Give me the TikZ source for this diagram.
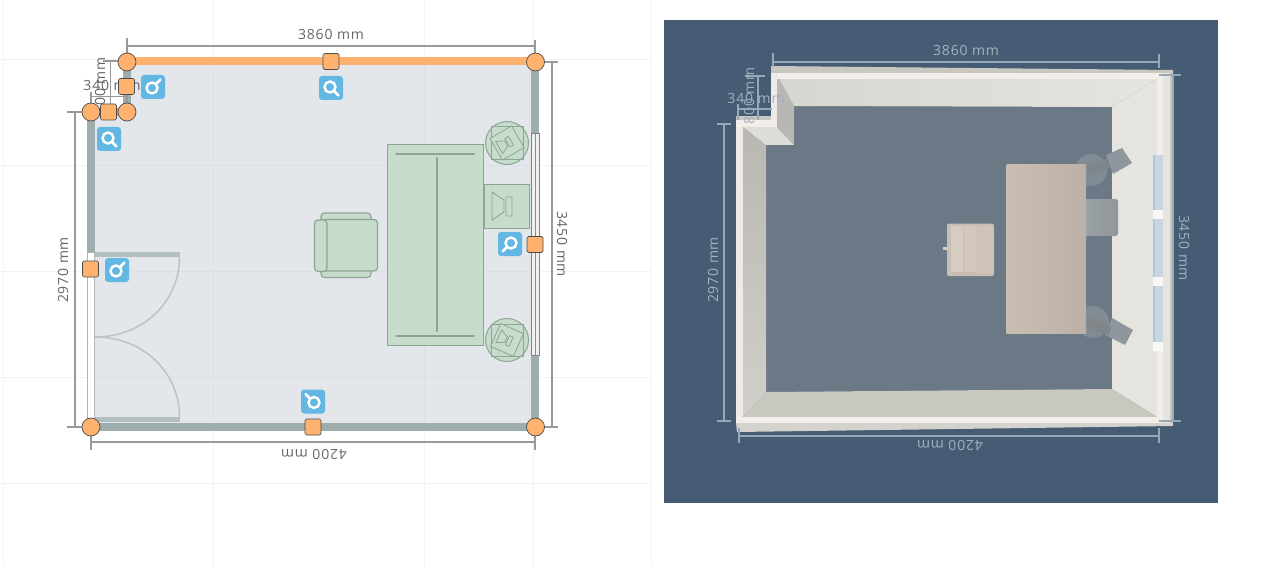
\documentclass[tikz,border=0pt]{standalone}
\usepackage{fontspec}
\setmainfont[LetterSpace=6]{Open Sans}
\usetikzlibrary{calc}
\definecolor{wallc}{HTML}{9EADAE}
\definecolor{orangec}{HTML}{FFB26E}
\definecolor{floorc}{HTML}{E3E7EB}
\definecolor{greenc}{HTML}{C6DDCB}
\definecolor{greend}{HTML}{8DA594}
\definecolor{dimc}{HTML}{999999}
\definecolor{dimt}{HTML}{666666}
\definecolor{bluec}{HTML}{62B8E2}
\definecolor{gridc}{HTML}{F2F3F4}
\definecolor{navyc}{HTML}{455C74}
\definecolor{floord}{HTML}{6B7886}
\definecolor{dimd}{HTML}{96A7B8}
\definecolor{dimdt}{HTML}{A3B1BF}
\definecolor{wallw}{HTML}{E5E4DE}
\definecolor{walltop}{HTML}{D6D5CF}
\definecolor{wallg}{HTML}{C8C7C0}
\definecolor{walll}{HTML}{F3EEEA}
\definecolor{grayobj}{HTML}{8E979D}
\definecolor{winA}{HTML}{C9D6E0}
\definecolor{winB}{HTML}{A9CBE0}
\definecolor{monA}{HTML}{9AA1A5}
\definecolor{monB}{HTML}{8F979C}
\definecolor{deskA}{HTML}{CABEB3}
\definecolor{deskB}{HTML}{BDB0A6}
\definecolor{neckc}{HTML}{7F8589}
\definecolor{chairA}{HTML}{C9BEB3}
\definecolor{chairB}{HTML}{D6CCC2}
\definecolor{chairC}{HTML}{D3C9BF}
\definecolor{chairD}{HTML}{CFC4BA}
\tikzset{
 x=1pt,y=-1pt,
 grid/.style={draw=gridc,line width=.8pt},
 wall/.style={draw=wallc,line width=8pt},
 dimline/.style={draw=dimc,line width=1.2pt},
 dimtext/.style={text=dimt,font=\fontsize{14}{14}\selectfont,inner sep=0pt},
 dimline3/.style={draw=dimd,line width=1.1pt},
 dimtext3/.style={text=dimdt,font=\fontsize{14}{14}\selectfont,inner sep=0pt},
 roundh/.style={circle,draw=black!70,fill=orangec,line width=.7pt,minimum size=18pt,inner sep=0pt},
 squareh/.style={rectangle,rounded corners=1.5pt,draw=black!70,fill=orangec,line width=.7pt,minimum size=16pt,inner sep=0pt},
 bluebtn/.style={rectangle,rounded corners=3pt,fill=bluec,minimum size=24pt,inner sep=0pt},
 furn/.style={draw=greend,fill=greenc,line width=1pt},
 furnl/.style={draw=greend,line width=2pt,line cap=round},
 doorp/.style={draw=wallc!60!floorc,line width=1.5pt},
}
\newcommand{\lensicon}[2]{%
 \begin{scope}[shift={(#1)},rotate=#2]
  \draw[white,line width=2.4pt] (-1,-1) circle[radius=5.5pt];
  \draw[white,line width=2.6pt,line cap=round] (3,3) -- (7.5,7.5);
 \end{scope}}
\begin{document}
\begin{tikzpicture}
\useasboundingbox (0,0) rectangle (1274,567);
\fill[white] (0,0) rectangle (1274,567);
% grid
\foreach \xx in {3,213,424,533,651}{\draw[grid] (\xx,0) -- (\xx,567);}
\foreach \yy in {59,165,271,377,483}{\draw[grid] (0,\yy) -- (651,\yy);}
% floor
\fill[floorc] (127,62) -- (535,62) -- (535,427) -- (91,427) -- (91,112) -- (127,112) -- cycle;
\foreach \xx in {213,424}{\draw[grid,draw=black!3!floorc] (\xx,62) -- (\xx,427);}
\foreach \yy in {165,271,377}{\draw[grid,draw=black!3!floorc] (91,\yy) -- (535,\yy);}
% walls
\draw[wall] (91,108) -- (91,427) -- (535,427) -- (535,62);
\draw[wall] (91,112) -- (127,112) -- (127,62);
\draw[draw=orangec,line width=8pt] (127,61) -- (535,61);
% door
\fill[white] (87,252) rectangle (95,423);
\draw[draw=wallc!80!floorc,line width=.8pt] (87,252.5) -- (87,423) (94.5,252.5) -- (94.5,423) (87,252.5) -- (95,252.5);
\fill[wallc!70!floorc] (95,252) rectangle (180,257);
\fill[wallc!70!floorc] (95,417) rectangle (180,422);
\draw[doorp] (179.5,257) .. controls (179.5,301) and (144,337) .. (95,337);
\draw[doorp] (179.5,417) .. controls (179.5,373) and (144,337) .. (95,337);
% window
\fill[white] (531,133) rectangle (540,356);
\fill[black!6] (531.5,133.5) rectangle (539.5,355.5);
\draw[draw=black!50,line width=.8pt] (531.5,133.5) rectangle (539.5,355.5);
\draw[draw=black!45,line width=1.6pt] (535.5,133.5) -- (535.5,355.5);
% table
\draw[furn] (387.5,144.5) rectangle (483,345.5);
\draw[furnl] (396,154) -- (474,154);
\draw[furnl] (396,335.5) -- (474,335.5);
\draw[furnl] (437,158) -- (437,331);
% monitor
\draw[furn] (484.5,184.5) rectangle (529.5,228.5);
\draw[draw=greend,line width=.9pt] (492,192) -- (504,200) -- (504,212) -- (492,220) -- cycle;
\draw[draw=greend,line width=.9pt,rounded corners=.5pt] (506,197) rectangle (512,216);
% stools
\foreach \yy/\rr in {143/30,340/-24}{
 \begin{scope}[shift={(507,\yy)}]
  \draw[furn] (0,0) circle[radius=21.5pt];
  \draw[draw=greend,line width=1pt] (-16,-16) rectangle (16,16);
  \begin{scope}[rotate=\rr]
   \draw[draw=greend,fill=greenc,line width=.8pt] (-12.5,-12.5) rectangle (12.5,12.5);
   \draw[draw=greend,line width=.8pt] (-9,-7) -- (-1,-3) -- (-1,3) -- (-9,7) -- cycle;
   \draw[draw=greend,line width=.8pt] (0.5,-5) rectangle (4.5,5);
  \end{scope}
 \end{scope}}
% armchair
\draw[furn,line width=1.2pt,rounded corners=3.5pt] (321,213) rectangle (371,277.5);
\draw[furn,line width=1.2pt,rounded corners=3.5pt] (322,219.5) rectangle (377.5,271);
\draw[furn,line width=1.2pt,rounded corners=3.5pt] (314.5,220) rectangle (327,271.5);
% dimensions
\draw[dimline] (127,38) -- (127,62) (127,46) -- (535,46) (535,40) -- (535,62);
\node[dimtext] (t3860) at (331,34) {3860 mm};
\draw[dimline] (558,62) -- (535,62) (552,62) -- (552,427) (558,427) -- (535,427);
\node[dimtext,rotate=-90] (t3450) at (562,244) {3450 mm};
\draw[dimline] (91,427) -- (91,450) (91,442) -- (535,442) (535,427) -- (535,450);
\node[dimtext,rotate=180] (t4200) at (314,455) {4200 mm};
\draw[dimline] (67,112) -- (91,112) (75,112) -- (75,427) (67,427) -- (91,427);
\node[dimtext,rotate=90] (t2970) at (63,270) {2970 mm};
\draw[dimline] (103,61) -- (127,61) (110.5,61) -- (110.5,112);
\node[dimtext,rotate=90] (t800) at (100,86) {800 mm};
\draw[dimline] (91,92) -- (91,112) (91,96.5) -- (127,96.5) (127,90) -- (127,112);
\node[dimtext] (t340) at (112,85) {340 mm};
% handles
\node[roundh] (c1) at (127,62) {};
\node[roundh] (c2) at (535.5,62) {};
\node[roundh] (c3) at (91,112) {};
\node[roundh] (c4) at (127,112) {};
\node[roundh] (c5) at (91,427) {};
\node[roundh] (c6) at (535.5,427) {};
\node[squareh] (s1) at (331,61.5) {};
\node[squareh] (s2) at (126.5,86.5) {};
\node[squareh] (s3) at (108.5,112) {};
\node[squareh] (s4) at (90.5,269) {};
\node[squareh] (s5) at (313,427) {};
\node[squareh] (s6) at (535,244.5) {};
% buttons
\node[bluebtn] (b1) at (331,88) {}; \lensicon{331,88}{0}
\node[bluebtn] (b2) at (153,87) {}; \lensicon{153,87}{90}
\node[bluebtn] (b3) at (109,139) {}; \lensicon{109,139}{0}
\node[bluebtn] (b4) at (117,270) {}; \lensicon{117,270}{90}
\node[bluebtn] (b5) at (313,401.5) {}; \lensicon{313,401.5}{180}
\node[bluebtn] (b6) at (510,244) {}; \lensicon{510,244}{-90}
% 3D panel
\fill[navyc] (664,20) rectangle (1218,503);
\fill[floord] (794,106) -- (1112,107) -- (1112,389) -- (766,392) -- (766,145) -- (794,145) -- cycle;
% inner faces
\shade[left color=walltop,right color=wallw] (777,79) -- (1157,79) -- (1112,107) -- (794,106) -- cycle;
\fill[wallw] (1157,79) -- (1157,417) -- (1112,389) -- (1112,107) -- cycle;
\fill[wallg] (743,417) -- (1157,417) -- (1112,389) -- (766,392) -- cycle;
\shade[top color=wallg!92!black,bottom color=wallg!85!white] (743,127) -- (766,145) -- (766,392) -- (743,417) -- cycle;
\fill[wallw!97!black] (743,127) -- (777,127) -- (794,145) -- (766,145) -- cycle;
\fill[wallg!92!black] (777,75) -- (794,106) -- (794,145) -- (777,127) -- cycle;
% top faces
\fill[wallg] (771,66) -- (1173,70) -- (1173,74) -- (771,73) -- cycle;
\fill[walll] (771,73) -- (1163,73) -- (1163,79) -- (771,79) -- cycle;
\fill[walll!90!wallg] (771,73) rectangle (777,122);
\fill[wallg] (736,116) -- (771,116) -- (771,120) -- (736,120) -- cycle;
\fill[walll] (736,120) rectangle (777,127);
\fill[walll!90!wallg] (736,127) rectangle (743,425);
\fill[walll] (1157,73) rectangle (1163,423);
\fill[wallw] (1163,73) rectangle (1170,424);
\fill[wallg] (1170,71) rectangle (1173,426);
\fill[walll] (736,417) rectangle (1163,423);
\fill[wallg!80!white] (736,423) -- (1173,423) -- (1173,426) -- (737,432) -- cycle;
% window strips
\foreach \ya/\yb in {155/210,219/277,286/342}{
 \fill[white!60!walll] (1153,\yb) rectangle (1163,\yb+9);
 \fill[winA] (1153,\ya) rectangle (1163,\yb);
 \fill[winB] (1153,\ya) rectangle (1155,\yb);
}
% stools and monitor (3D)
\fill[grayobj!60!floord] (1091,170) circle[radius=16pt];
\fill[grayobj!60!floord] (1093,322) circle[radius=16pt];
\shade[left color=monA,right color=monB] (1086,199) -- (1116,199) -- (1118,201) -- (1118,234) -- (1116,236) -- (1086,236) -- cycle;
\shade[left color=deskA,right color=deskB] (1006.5,164.5) rectangle (1086,333);
\fill[grayobj] (1106,155) -- (1122,148) -- (1132,163) -- (1113,174) -- cycle;
\draw[neckc,line width=9pt] (1087,171) -- (1108,163);
\fill[grayobj] (1112,318) -- (1133,330) -- (1125,345) -- (1105,335) -- cycle;
\draw[neckc,line width=9pt] (1087,322) -- (1110,331);
% armchair (3D)
\fill[chairB] (943,246.5) rectangle (947,250);
\fill[chairA,rounded corners=2pt] (947,223.5) rectangle (994,276);
\fill[chairB] (951,226) rectangle (963,272);
\fill[chairC] (964,226) rectangle (977,272);
\fill[chairD] (978,226) rectangle (993,273);
% 3D dimensions
\draw[dimline3] (773,53) -- (773,67) (773,62) -- (1159,62) (1159,54) -- (1159,68);
\node[dimtext3] (u3860) at (966,50) {3860 mm};
\draw[dimline3] (1159,75) -- (1181,75) (1173,75) -- (1173,421) (1159,421) -- (1181,421);
\node[dimtext3,rotate=-90] (u3450) at (1184,248) {3450 mm};
\draw[dimline3] (739,428) -- (739,443) (739,436) -- (1159,436) (1159,428) -- (1159,443);
\node[dimtext3,rotate=180] (u4200) at (950,446) {4200 mm};
\draw[dimline3] (717,124) -- (731,124) (724,124) -- (724,421) (717,421) -- (731,421);
\node[dimtext3,rotate=90] (u2970) at (713,270) {2970 mm};
\draw[dimline3] (745,76) -- (765,76) (758,76) -- (758,120);
\node[dimtext3,rotate=90] (u800) at (749,96) {800 mm};
\draw[dimline3] (738,109) -- (772,109) (738,104) -- (738,120);
\node[dimtext3] (u340) at (756,98) {340 mm};
\end{tikzpicture}
\end{document}
